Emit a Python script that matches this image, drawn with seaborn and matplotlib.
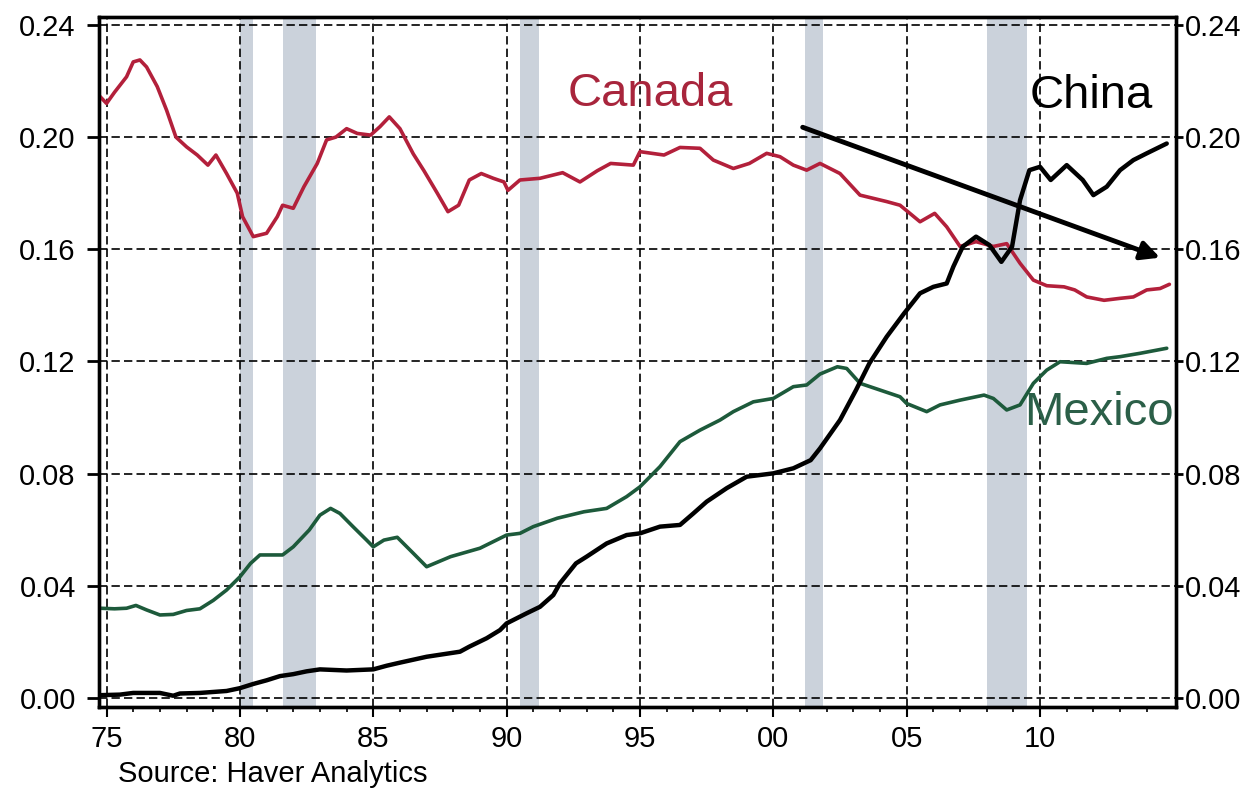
import matplotlib
matplotlib.use("Agg")
import matplotlib.pyplot as plt
import seaborn as sns

# Canada share (year, value)
canada_year = [1974.75, 1975.0, 1975.3, 1975.75, 1976.0, 1976.25, 1976.5, 1976.9, 1977.25, 1977.6,
               1978.0, 1978.4, 1978.8, 1979.1, 1979.5, 1979.9, 1980.1, 1980.5, 1981.0, 1981.4,
               1981.6, 1982.0, 1982.4, 1982.9, 1983.25, 1983.6, 1984.0, 1984.4, 1984.9, 1985.25,
               1985.6, 1986.0, 1986.5, 1986.9, 1987.4, 1987.8, 1988.2, 1988.6, 1989.05, 1989.5,
               1989.9, 1990.05, 1990.5, 1991.25, 1992.1, 1992.75, 1993.4, 1993.9, 1994.75, 1995.0,
               1995.9, 1996.5, 1997.25, 1997.75, 1998.5, 1999.1, 1999.75, 2000.25, 2000.75, 2001.25,
               2001.75, 2002.5, 2003.25, 2004.25, 2004.75, 2005.5, 2006.05, 2006.5, 2007.0, 2007.6,
               2008.25, 2008.75, 2009.25, 2009.75, 2010.25, 2010.9, 2011.3, 2011.75, 2012.4, 2013.0,
               2013.5, 2014.0, 2014.5, 2014.85]
canada_val = [0.2145, 0.212, 0.216, 0.2215, 0.2268, 0.2275, 0.225, 0.218, 0.2096, 0.200,
              0.1965, 0.1936, 0.190, 0.1936, 0.187, 0.180, 0.1716, 0.1645, 0.1657, 0.1716,
              0.1757, 0.1746, 0.1823, 0.1906, 0.199, 0.200, 0.203, 0.2013, 0.2007, 0.2037,
              0.2072, 0.203, 0.194, 0.188, 0.180, 0.1734, 0.1757, 0.1847, 0.187, 0.1853,
              0.184, 0.181, 0.1847, 0.1853, 0.1873, 0.184, 0.188, 0.1906, 0.190, 0.1948,
              0.1936, 0.1963, 0.196, 0.1918, 0.1888, 0.1906, 0.1942, 0.193, 0.190, 0.1882,
              0.1906, 0.187, 0.1793, 0.177, 0.1757, 0.1698, 0.1728, 0.168, 0.161, 0.1627,
              0.161, 0.162, 0.155, 0.149, 0.147, 0.1466, 0.1455, 0.143, 0.1418, 0.1425,
              0.143, 0.1455, 0.146, 0.1475]

mexico_year = [1974.75, 1975.3, 1975.75, 1976.1, 1976.5, 1977.0, 1977.5, 1978.0, 1978.5, 1979.0,
               1979.5, 1980.0, 1980.4, 1980.75, 1981.6, 1982.0, 1982.6, 1983.0, 1983.4, 1983.75,
               1984.25, 1984.75, 1985.0, 1985.4, 1985.9, 1986.5, 1987.0, 1987.9, 1989.0, 1990.0,
               1990.5, 1991.0, 1991.9, 1992.9, 1993.75, 1994.5, 1995.0, 1995.75, 1996.5, 1997.25,
               1998.0, 1998.5, 1999.25, 2000.0, 2000.75, 2001.25, 2001.75, 2002.4, 2002.75, 2003.25,
               2004.0, 2004.75, 2005.0, 2005.75, 2006.25, 2007.0, 2007.9, 2008.25, 2008.75, 2009.25,
               2009.75, 2010.25, 2010.75, 2011.75, 2012.5, 2013.0, 2013.75, 2014.75]
mexico_val = [0.032, 0.0318, 0.032, 0.0330, 0.0314, 0.0296, 0.0298, 0.0312, 0.0318, 0.0348,
              0.0385, 0.0432, 0.048, 0.051, 0.051, 0.0539, 0.0599, 0.0652, 0.0676, 0.0658,
              0.061, 0.0563, 0.0539, 0.0563, 0.0573, 0.0516, 0.0468, 0.0504, 0.0534, 0.0581,
              0.0587, 0.0611, 0.0641, 0.0664, 0.0676, 0.0718, 0.0753, 0.0825, 0.0914, 0.0955,
              0.0991, 0.1021, 0.1056, 0.1068, 0.111, 0.1116, 0.1155, 0.1181, 0.1175, 0.1122,
              0.1098, 0.1074, 0.105, 0.1021, 0.1045, 0.1062, 0.108, 0.1068, 0.1027, 0.1045,
              0.1122, 0.1169, 0.1199, 0.1193, 0.1211, 0.1217, 0.1229, 0.1247]

china_year = [1974.75, 1975.5, 1976.0, 1977.0, 1977.5, 1977.75, 1978.5, 1979.5, 1980.0, 1980.5,
              1981.0, 1981.5, 1982.0, 1982.5, 1983.0, 1984.0, 1985.0, 1985.5, 1986.0, 1987.0,
              1988.25, 1988.6, 1989.25, 1989.75, 1990.0, 1990.75, 1991.25, 1991.75, 1992.0, 1992.6,
              1993.0, 1993.75, 1994.5, 1995.0, 1995.75, 1996.5, 1997.0, 1997.5, 1998.25, 1999.0,
              2000.0, 2000.75, 2001.4, 2001.75, 2002.5, 2003.1, 2003.6, 2004.25, 2004.9, 2005.5,
              2006.0, 2006.5, 2006.75, 2007.1, 2007.6, 2008.1, 2008.55, 2008.95, 2009.25, 2009.6,
              2010.0, 2010.4, 2011.0, 2011.6, 2012.0, 2012.5, 2013.0, 2013.5, 2014.0, 2014.75]
china_val = [0.001, 0.0012, 0.0018, 0.0018, 0.0008, 0.0016, 0.0018, 0.0025, 0.0035, 0.005,
             0.0063, 0.0078, 0.0085, 0.0095, 0.0102, 0.0098, 0.0102, 0.0115, 0.0126, 0.0147,
             0.0165, 0.0183, 0.0213, 0.0242, 0.0266, 0.0302, 0.0325, 0.0367, 0.0409, 0.048,
             0.0504, 0.0551, 0.0581, 0.0587, 0.0611, 0.0617, 0.0658, 0.070, 0.0748, 0.0789,
             0.0801, 0.0819, 0.0848, 0.089, 0.0991, 0.1098, 0.1193, 0.1288, 0.1371, 0.1443,
             0.1466, 0.1478, 0.1538, 0.1609, 0.1645, 0.1615, 0.1555, 0.1609, 0.1775, 0.1882,
             0.1894, 0.1847, 0.190, 0.1847, 0.1793, 0.1823, 0.1882, 0.1918, 0.1942, 0.1977]

recessions = [(1980.0, 1980.5), (1981.6, 1982.85), (1990.5, 1991.2), (2001.2, 2001.85), (2008.0, 2009.5)]

x_ticks = [1975, 1980, 1985, 1990, 1995, 2000, 2005, 2010]
x_labels = ["75", "80", "85", "90", "95", "00", "05", "10"]
y_ticks = [0.00, 0.04, 0.08, 0.12, 0.16, 0.20, 0.24]
y_labels = ["0.00", "0.04", "0.08", "0.12", "0.16", "0.20", "0.24"]

sns.set_style("white")
plt.rcParams["font.family"] = ["Liberation Sans", "DejaVu Sans"]
plt.rcParams["text.color"] = "black"
plt.rcParams["xtick.color"] = "black"
plt.rcParams["ytick.color"] = "black"
plt.rcParams["axes.edgecolor"] = "black"

fig = plt.figure(figsize=(12.53, 7.91), dpi=100)
ax = fig.add_axes([0.0793, 0.1066, 0.8593, 0.8715])

# recession bars
for start, end in recessions:
    ax.axvspan(start, end, color="#cbd2db", lw=0, zorder=0.3)

sns.lineplot(x=canada_year, y=canada_val, ax=ax, color="#b3203b", lw=2.6, zorder=3)
sns.lineplot(x=mexico_year, y=mexico_val, ax=ax, color="#1d5a3b", lw=2.6, zorder=3)
sns.lineplot(x=china_year, y=china_val, ax=ax, color="black", lw=3.2, zorder=4)

ax.set_xlim(1974.73, 2015.1)
ax.set_ylim(-0.0031, 0.2427)

ax.set_xticks(x_ticks)
ax.set_xticklabels(x_labels)
ax.set_xticks(list(range(1975, 2015)), minor=True)
ax.set_yticks(y_ticks)
ax.set_yticklabels(y_labels)

ax.grid(True, which="major", color="black", linestyle=(0, (5, 2.5)), lw=1.2)
ax.set_axisbelow(True)

for side in ["left", "right", "top", "bottom"]:
    ax.spines[side].set_visible(True)
    ax.spines[side].set_linewidth(2.4)

ax.tick_params(axis="x", which="major", direction="out", length=7, width=1.5, pad=6,
               labelsize=21, bottom=True)
ax.tick_params(axis="x", which="minor", direction="out", length=3.5, width=1.2, bottom=True)
ax.tick_params(axis="y", which="major", direction="out", length=9, width=2, pad=8,
               labelsize=21, left=True)

# right axis repeats the same scale
ax2 = ax.twinx()
ax2.set_ylim(ax.get_ylim())
ax2.set_yticks(y_ticks)
ax2.set_yticklabels(y_labels)
ax2.tick_params(axis="y", direction="out", length=5, width=2, pad=1.5, labelsize=21, right=True)
ax2.grid(False)
for side in ["left", "right", "top", "bottom"]:
    ax2.spines[side].set_linewidth(2.4)

ax.text(1992.3, 0.2112, "Canada", color="#a8253c", fontsize=34, ha="left", va="baseline", zorder=5)
ax.text(2009.62, 0.2103, "China", color="black", fontsize=34, ha="left", va="baseline", zorder=5)
ax.text(2009.4, 0.0972, "Mexico", color="#2b5f48", fontsize=34, ha="left", va="baseline",
        zorder=5, clip_on=True)

ax.annotate("", xy=(2014.5, 0.157), xytext=(2001.1, 0.2035),
            arrowprops=dict(arrowstyle="-|>", lw=3.5, color="black", mutation_scale=28,
                            shrinkA=0, shrinkB=0), zorder=6)

fig.text(0.094, 0.012, "Source: Haver Analytics", fontsize=21, ha="left", va="baseline")

fig.savefig("out.png", dpi=100)
